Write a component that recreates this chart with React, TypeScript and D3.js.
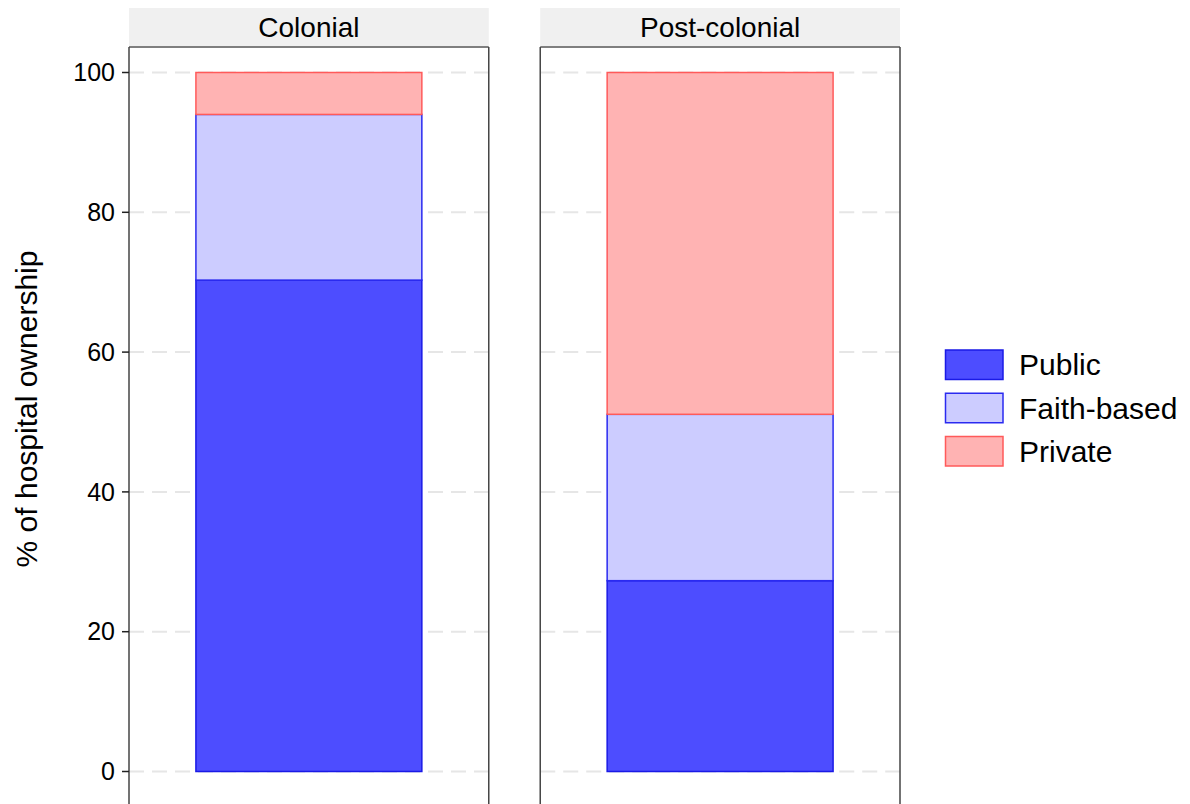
import React from "react";
import * as d3 from "d3";

const periods = ["Colonial", "Post-colonial"];
const ownership = ["Public", "Faith-based", "Private"];
const publicShare = [70.3, 27.3];
const faithShare = [23.7, 23.8];
const privateShare = [6.0, 48.9];
const yTicks = [0, 20, 40, 60, 80, 100];

const fills: Record<string, string> = {
  Public: "#4d4dff",
  "Faith-based": "#ccccff",
  Private: "#ffb3b3",
};
const strokes: Record<string, string> = {
  Public: "#1a1ae6",
  "Faith-based": "#2a2af0",
  Private: "#ff5a5a",
};

const FONT = "'Liberation Sans', Arial, sans-serif";

export default function App() {
  const W = 1190;
  const H = 804;
  const y = d3.scaleLinear().domain([0, 100]).range([771.5, 72.5]);
  const panelX = d3.scaleBand().domain(periods).range([129, 900]).paddingInner(51.5 / 411.5);
  const panelW = panelX.bandwidth();
  const barW = panelW * 0.628;

  const rows = periods.map((p, i) => ({
    period: p,
    Public: publicShare[i],
    "Faith-based": faithShare[i],
    Private: privateShare[i],
  }));
  const stack = d3.stack<any>().keys(ownership)(rows);

  const legendY = d3.scaleBand().domain(ownership).range([350, 466]).paddingInner(0.318);

  return (
    <svg width={W} height={H} style={{ position: "absolute", left: 0, top: 0, display: "block" }} fontFamily={FONT}>
      <rect x={0} y={0} width={W} height={H} fill="#fff" />
      {periods.map((p) => {
        const x0 = panelX(p)!;
        return (
          <g key={p}>
            <rect x={x0} y={8} width={panelW} height={38} fill="#f0f0f0" />
            <text x={x0 + panelW / 2} y={37} textAnchor="middle" fontSize={28} fill="#000">
              {p}
            </text>
            {yTicks.map((t) => (
              <line
                key={t}
                x1={x0}
                x2={x0 + panelW}
                y1={y(t)}
                y2={y(t)}
                stroke="#e6e6e6"
                strokeWidth={2}
                strokeDasharray="15 8"
              />
            ))}
          </g>
        );
      })}
      {stack.map((layer) =>
        layer.map((d, i) => {
          const key = layer.key;
          const cx = panelX(periods[i])! + panelW / 2;
          return (
            <rect
              key={key + i}
              x={cx - barW / 2}
              y={y(d[1])}
              width={barW}
              height={y(d[0]) - y(d[1])}
              fill={fills[key]}
              stroke={strokes[key]}
              strokeWidth={1.5}
            />
          );
        })
      )}
      {periods.map((p) => {
        const x0 = panelX(p)!;
        return (
          <g key={"b" + p}>
            <line x1={x0} x2={x0 + panelW} y1={47} y2={47} stroke="#555" strokeWidth={1.5} />
            <line x1={x0} x2={x0} y1={47} y2={H} stroke="#444" strokeWidth={1.5} />
            <line x1={x0 + panelW} x2={x0 + panelW} y1={47} y2={H} stroke="#444" strokeWidth={1.5} />
          </g>
        );
      })}
      {yTicks.map((t) => (
        <g key={"t" + t}>
          <line x1={122} x2={129} y1={y(t)} y2={y(t)} stroke="#222" strokeWidth={1.5} />
          <text x={115} y={y(t)} dy="0.35em" textAnchor="end" fontSize={25} fill="#000">
            {t}
          </text>
        </g>
      ))}
      <text
        transform={`translate(37, 409) rotate(-90)`}
        textAnchor="middle"
        fontSize={30}
        fill="#000"
      >
        % of hospital ownership
      </text>
      {ownership.map((k) => {
        const yy = legendY(k)!;
        const h = legendY.bandwidth();
        return (
          <g key={"l" + k}>
            <rect x={945.5} y={yy} width={57.5} height={h} fill={fills[k]} stroke={strokes[k]} strokeWidth={1.5} />
            <text x={1019} y={yy + h / 2} dy="0.35em" fontSize={30} fill="#000">
              {k}
            </text>
          </g>
        );
      })}
    </svg>
  );
}
